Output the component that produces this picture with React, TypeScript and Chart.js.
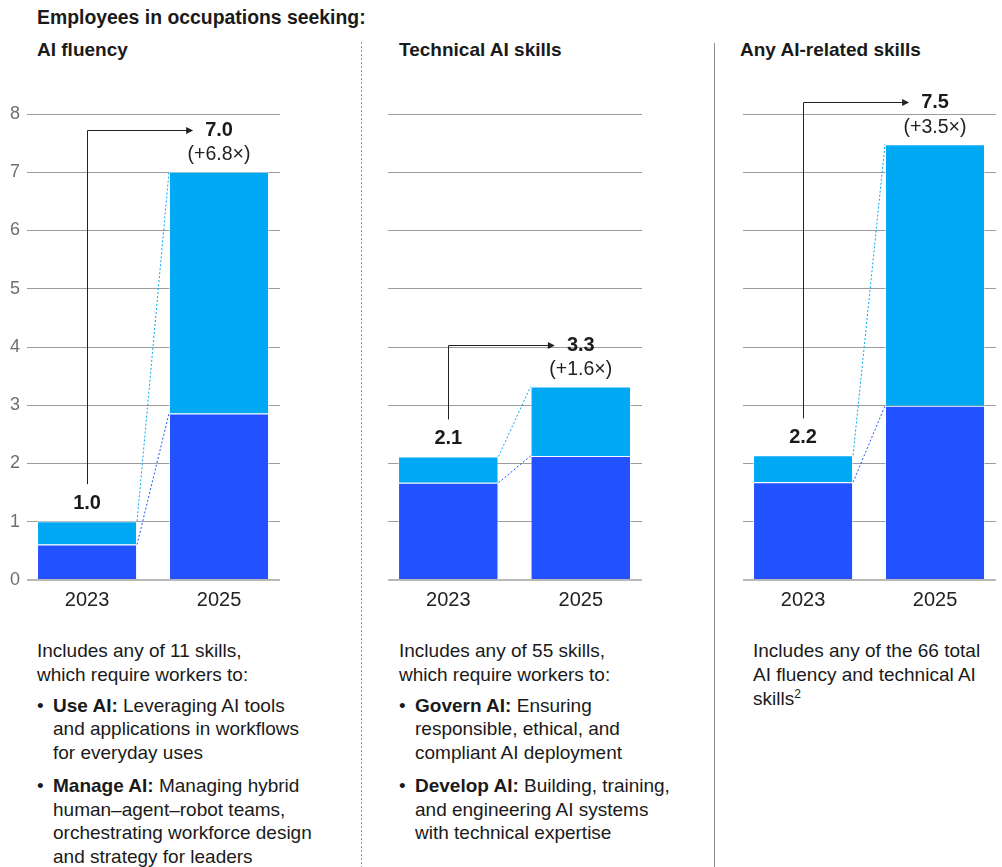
import React, { useEffect, useRef } from 'react';
import { Chart, registerables } from 'chart.js';

Chart.register(...registerables);

const FONT = '"Liberation Sans", Arial, Helvetica, sans-serif';
const DARK = '#2251FF';
const LIGHT = '#00A9F4';
const INK = '#1a1a1a';

// ---------- data ----------
const YEARS = ['2023', '2025'];
const Y_TICKS = [0, 1, 2, 3, 4, 5, 6, 7, 8];

const FLUENCY_LOWER = [0.61, 2.86];
const FLUENCY_UPPER = [0.4, 4.15];
const FLUENCY_TOTALS = ['1.0', '7.0'];
const FLUENCY_GROWTH = '(+6.8×)';

const TECH_LOWER = [1.67, 2.13];
const TECH_UPPER = [0.45, 1.19];
const TECH_TOTALS = ['2.1', '3.3'];
const TECH_GROWTH = '(+1.6×)';

const ANY_LOWER = [1.68, 2.99];
const ANY_UPPER = [0.46, 4.49];
const ANY_TOTALS = ['2.2', '7.5'];
const ANY_GROWTH = '(+3.5×)';

// ---------- layout ----------
const CANVAS_TOP = 70;
const CANVAS_H = 550;

type PanelCfg = {
  left: number;
  width: number;
  padLeft: number;
  padRight: number;
  showY: boolean;
  lower: number[];
  upper: number[];
  totals: string[];
  growth: string;
};

const PANELS: PanelCfg[] = [
  { left: 0, width: 290, padLeft: 0, padRight: 10, showY: true, lower: FLUENCY_LOWER, upper: FLUENCY_UPPER, totals: FLUENCY_TOTALS, growth: FLUENCY_GROWTH },
  { left: 378, width: 274, padLeft: 10, padRight: 10, showY: false, lower: TECH_LOWER, upper: TECH_UPPER, totals: TECH_TOTALS, growth: TECH_GROWTH },
  { left: 733, width: 269, padLeft: 10, padRight: 6, showY: false, lower: ANY_LOWER, upper: ANY_UPPER, totals: ANY_TOTALS, growth: ANY_GROWTH },
];

const growthPlugin = {
  id: 'growth',
  afterDatasetsDraw(chart: any, _args: any, opts: any) {
    const ctx: CanvasRenderingContext2D = chart.ctx;
    const low = chart.getDatasetMeta(0).data;
    const high = chart.getDatasetMeta(1).data;
    const a = high[0];
    const b = high[1];
    ctx.save();
    // dotted connectors
    ctx.lineWidth = 1;
    ctx.setLineDash([2, 2]);
    const pairs: [any[], string][] = [
      [low, DARK],
      [high, LIGHT],
    ];
    pairs.forEach(([els, color]) => {
      const p = els[0];
      const q = els[1];
      ctx.strokeStyle = color;
      ctx.beginPath();
      ctx.moveTo(p.x + p.width / 2, p.y);
      ctx.lineTo(q.x - q.width / 2, q.y);
      ctx.stroke();
    });
    ctx.setLineDash([]);

    // labels
    ctx.fillStyle = INK;
    ctx.textAlign = 'center';
    ctx.textBaseline = 'middle';
    ctx.font = `bold 20px ${FONT}`;
    ctx.fillText(opts.totals[0], a.x, a.y - 18);
    const lineY = Math.round(b.y - 42) + 0.5;
    ctx.fillText(opts.totals[1], b.x, lineY);
    const tw = ctx.measureText(opts.totals[1]).width;
    ctx.font = `19.5px ${FONT}`;
    ctx.fillStyle = '#222';
    ctx.fillText(opts.growth, b.x, b.y - 17);

    // elbow arrow
    const vx = Math.round(a.x) + 0.5;
    const tipX = b.x - tw / 2 - 12;
    ctx.strokeStyle = '#222';
    ctx.lineWidth = 1;
    ctx.beginPath();
    ctx.moveTo(vx, a.y - 37);
    ctx.lineTo(vx, lineY);
    ctx.lineTo(tipX - 5, lineY);
    ctx.stroke();
    ctx.fillStyle = '#222';
    ctx.beginPath();
    ctx.moveTo(tipX, lineY);
    ctx.lineTo(tipX - 7, lineY - 3.5);
    ctx.lineTo(tipX - 7, lineY + 3.5);
    ctx.closePath();
    ctx.fill();
    ctx.restore();
  },
};

function makeConfig(p: PanelCfg): any {
  const barCommon = {
    borderColor: 'rgba(255,255,255,0.6)',
    borderWidth: 1,
    categoryPercentage: 1,
    barPercentage: 0.758,
  };
  return {
    type: 'bar',
    data: {
      datasets: [
        { ...barCommon, data: p.lower.map((v, i) => ({ x: i, y: v })), backgroundColor: DARK },
        { ...barCommon, data: p.upper.map((v, i) => ({ x: i, y: v })), backgroundColor: LIGHT },
      ],
    },
    options: {
      animation: false,
      responsive: false,
      maintainAspectRatio: false,
      events: [],
      layout: { padding: { top: 44, bottom: 0, left: p.padLeft, right: p.padRight } },
      plugins: {
        legend: { display: false },
        tooltip: { enabled: false },
        growth: { totals: p.totals, growth: p.growth },
      },
      scales: {
        x: {
          type: 'linear',
          min: -0.455,
          max: 1.462,
          offset: false,
          stacked: true,
          grid: { display: false, drawTicks: false, offset: false },
          border: { display: false },
          afterBuildTicks: (s: any) => {
            s.ticks = YEARS.map((_, i) => ({ value: i }));
          },
          afterFit: (s: any) => {
            s.height = 40;
          },
          ticks: {
            callback: (v: any) => YEARS[v as number] ?? '',
            font: { family: FONT, size: 20 },
            color: '#222',
            padding: 8,
            maxRotation: 0,
            autoSkip: false,
          },
        },
        y: {
          min: 0,
          max: 8,
          stacked: true,
          afterBuildTicks: (s: any) => {
            s.ticks = Y_TICKS.map((v) => ({ value: v }));
          },
          afterFit: (s: any) => {
            s.width = p.showY ? 27 : 0;
          },
          border: { display: false },
          grid: {
            drawTicks: false,
            color: (c: any) => (c.tick && c.tick.value === 0 ? '#b8b8b8' : '#9c9c9c'),
            lineWidth: (c: any) => (c.tick && c.tick.value === 0 ? 2 : 1),
          },
          ticks: {
            display: p.showY,
            font: { family: FONT, size: 18 },
            color: '#6f6f6f',
            padding: 7,
          },
        },
      },
    },
    plugins: [growthPlugin],
  };
}

function PanelChart({ panel }: { panel: PanelCfg }) {
  const ref = useRef<HTMLCanvasElement>(null);
  useEffect(() => {
    const chart = new Chart(ref.current as HTMLCanvasElement, makeConfig(panel));
    return () => chart.destroy();
  }, [panel]);
  return (
    <canvas
      ref={ref}
      width={panel.width}
      height={CANVAS_H}
      style={{ position: 'absolute', left: panel.left, top: CANVAS_TOP, width: panel.width, height: CANVAS_H }}
    />
  );
}

const textBase: React.CSSProperties = {
  position: 'absolute',
  fontFamily: FONT,
  fontSize: 19,
  lineHeight: '23.75px',
  color: INK,
  whiteSpace: 'nowrap',
};

function Bullet({ head, lines, mt }: { head: string; lines: string[]; mt: number }) {
  return (
    <div style={{ position: 'relative', paddingLeft: 16, marginTop: mt }}>
      <span style={{ position: 'absolute', left: 0, top: 0 }}>•</span>
      {lines.map((l, i) => (
        <div key={i}>
          {i === 0 ? <b>{head} </b> : null}
          {l}
        </div>
      ))}
    </div>
  );
}

export default function App() {
  return (
    <div style={{ position: 'absolute', left: 0, top: 0, width: 1002, height: 867, background: '#fff', overflow: 'hidden' }}>
      <div style={{ ...textBase, left: 37, top: 6, fontWeight: 700, fontSize: 19.4 }}>Employees in occupations seeking:</div>
      <div style={{ ...textBase, left: 37, top: 38, fontWeight: 700 }}>AI fluency</div>
      <div style={{ ...textBase, left: 399, top: 38, fontWeight: 700 }}>Technical AI skills</div>
      <div style={{ ...textBase, left: 740, top: 38, fontWeight: 700 }}>Any AI-related skills</div>

      <div
        style={{
          position: 'absolute',
          left: 361,
          top: 42,
          width: 1,
          height: 825,
          background: 'repeating-linear-gradient(to bottom, #9a9a9a 0 2px, transparent 2px 4px)',
        }}
      />
      <div style={{ position: 'absolute', left: 714, top: 43, width: 1, height: 824, background: '#8f8f8f' }} />

      {PANELS.map((p, i) => (
        <PanelChart key={i} panel={p} />
      ))}

      <div style={{ ...textBase, left: 37, top: 639 }}>
        <div>Includes any of 11 skills,</div>
        <div>which require workers to:</div>
        <Bullet mt={7} head="Use AI:" lines={['Leveraging AI tools', 'and applications in workflows', 'for everyday uses']} />
        <Bullet
          mt={9}
          head="Manage AI:"
          lines={['Managing hybrid', 'human–agent–robot teams,', 'orchestrating workforce design', 'and strategy for leaders']}
        />
      </div>

      <div style={{ ...textBase, left: 399, top: 639 }}>
        <div>Includes any of 55 skills,</div>
        <div>which require workers to:</div>
        <Bullet mt={7} head="Govern AI:" lines={['Ensuring', 'responsible, ethical, and', 'compliant AI deployment']} />
        <Bullet mt={9} head="Develop AI:" lines={['Building, training,', 'and engineering AI systems', 'with technical expertise']} />
      </div>

      <div style={{ ...textBase, left: 753, top: 639 }}>
        <div>Includes any of the 66 total</div>
        <div>AI fluency and technical AI</div>
        <div>
          skills<sup style={{ fontSize: 12, lineHeight: 0, verticalAlign: 'super' }}>2</sup>
        </div>
      </div>
    </div>
  );
}
